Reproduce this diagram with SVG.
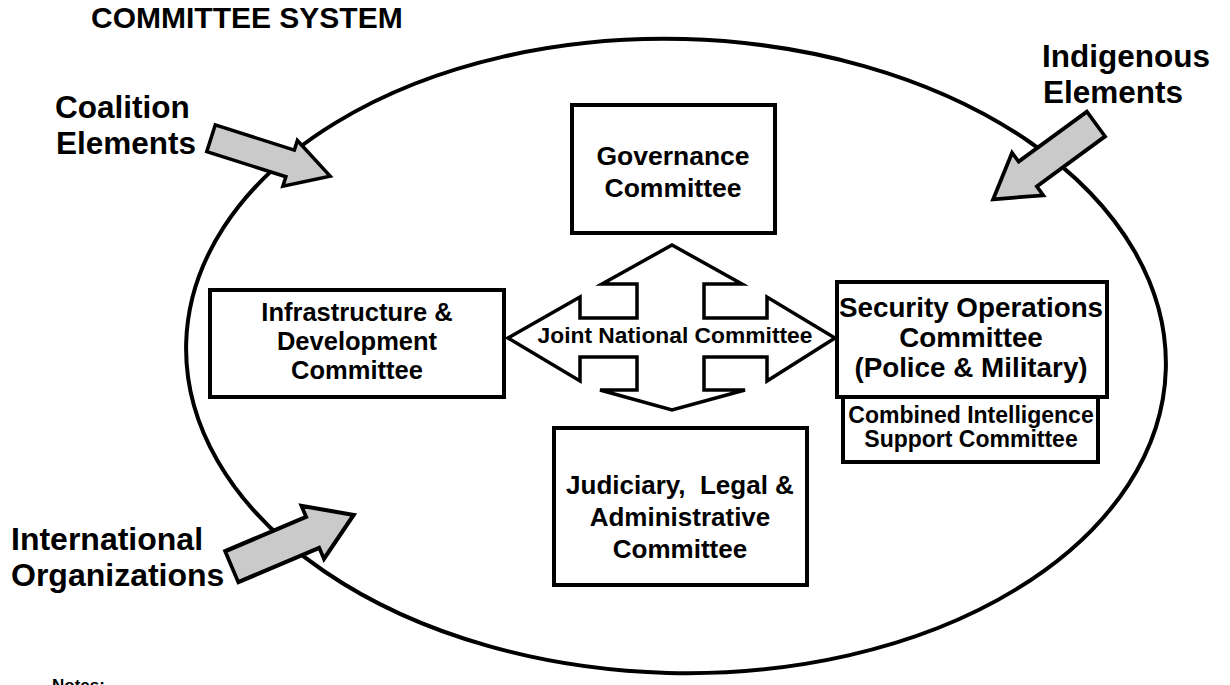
<svg xmlns="http://www.w3.org/2000/svg" width="1230" height="685" viewBox="0 0 1230 685">
<style>
text{font-family:"Liberation Sans",Arial,sans-serif;font-weight:bold;fill:#000}
.box{fill:#fff;stroke:#000;stroke-width:4}
.big{font-size:31.5px}
.c{text-anchor:middle}
.gray{fill:#cacaca;stroke:#000;stroke-width:3.5;stroke-linejoin:miter}
</style>
<defs>
<path id="garrow" d="M0,-14 L83,-14 L83,-24 L125,0 L83,24 L83,14 L0,14 Z"/>
</defs>
<rect width="1230" height="685" fill="#fff"/>
<g id="boundary">
<ellipse cx="676" cy="356" rx="490" ry="317" transform="rotate(1.5 676 356)" fill="none" stroke="#000" stroke-width="4"/>
</g>
<text x="91" y="28" style="font-size:30px">COMMITTEE SYSTEM</text>
<g id="coalition">
<text class="big" x="55" y="118">Coalition</text>
<text class="big" x="56" y="154">Elements</text>
</g>
<g id="indigenous">
<text class="big" x="1042" y="67">Indigenous</text>
<text class="big" x="1043" y="103">Elements</text>
</g>
<g id="international">
<text class="big" x="11" y="550" style="font-size:32px">International</text>
<text class="big" x="11" y="586" style="font-size:32px">Organizations</text>
</g>
<g id="connectors">
<use href="#garrow" class="gray" transform="translate(211,138.3) rotate(17.6)"/>
<use href="#garrow" class="gray" transform="translate(1096,124) rotate(143.8) scale(1.02,1.1)"/>
<use href="#garrow" class="gray" transform="translate(231.7,566.7) rotate(-23) scale(1.06,1.2)"/>
</g>
<g id="governance">
<rect class="box" x="572" y="105" width="203" height="128"/>
<text class="c" x="673" y="165" style="font-size:26.5px">Governance</text>
<text class="c" x="673" y="197" style="font-size:26.5px">Committee</text>
</g>
<g id="infrastructure">
<rect class="box" x="210" y="290" width="294" height="107"/>
<text class="c" x="357" y="321" style="font-size:25.5px">Infrastructure &amp;</text>
<text class="c" x="357" y="350" style="font-size:25.5px">Development</text>
<text class="c" x="357" y="379" style="font-size:25.5px">Committee</text>
</g>
<g id="joint-national">
<path d="M672,245 L742,284 L704,284 L704,318 L767,318 L767,297 L835,338 L767,381 L767,357 L704,357 L704,390 L745,390 L672,410 L600,390 L637,390 L637,357 L580,357 L580,381 L508,338 L580,297 L580,318 L637,318 L637,284 L602,284 Z" fill="#fff" stroke="#000" stroke-width="3.5" stroke-linejoin="miter"/>
<text class="c" x="675" y="343" style="font-size:22.8px">Joint National Committee</text>
</g>
<g id="security">
<rect class="box" x="837" y="282" width="270" height="115"/>
<text class="c" x="971" y="317" style="font-size:27.8px">Security Operations</text>
<text class="c" x="971" y="347" style="font-size:27.8px">Committee</text>
<text class="c" x="971" y="377" style="font-size:27.8px">(Police &amp; Military)</text>
</g>
<g id="intelligence">
<rect class="box" x="843" y="397" width="255" height="65"/>
<text class="c" x="971" y="423" style="font-size:23px">Combined Intelligence</text>
<text class="c" x="971" y="447" style="font-size:23px">Support Committee</text>
</g>
<g id="judiciary">
<rect class="box" x="554" y="428" width="253" height="157"/>
<text class="c" x="680" y="494" style="font-size:26px" xml:space="preserve">Judiciary,  Legal &amp;</text>
<text class="c" x="680" y="526" style="font-size:26px">Administrative</text>
<text class="c" x="680" y="558" style="font-size:26px">Committee</text>
</g>
<text x="52" y="691" style="font-size:17px">Notes:</text>
</svg>
